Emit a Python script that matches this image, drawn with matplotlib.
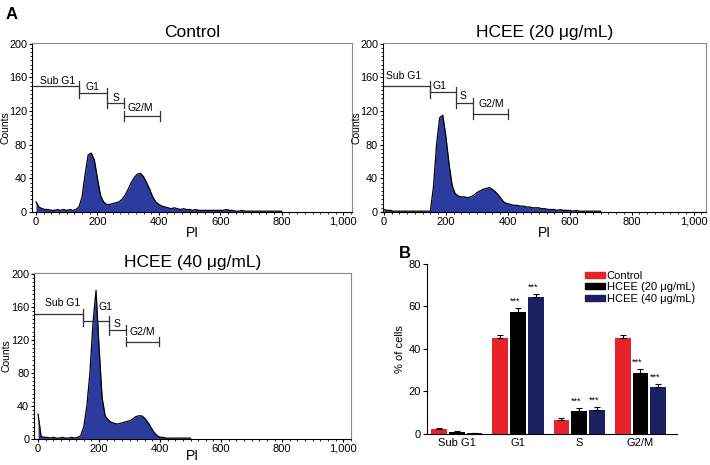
import numpy as np
import matplotlib
matplotlib.use("Agg")
import matplotlib.pyplot as plt
from matplotlib.patches import Patch
from matplotlib.ticker import FuncFormatter, MultipleLocator

plt.rcParams["font.family"] = ["Liberation Sans", "DejaVu Sans"]

# PI histograms, counts per 10-unit bin starting at PI = 0
pi_bin_width = 10
counts_control = [
    12, 6, 4, 3, 3, 2, 2, 3, 2, 3,
    2, 3, 2, 3, 6, 18, 45, 68, 70, 62,
    40, 20, 12, 9, 9, 10, 11, 12, 15, 20,
    27, 35, 41, 45, 46, 42, 35, 27, 18, 12,
    9, 7, 6, 5, 4, 5, 4, 3, 4, 3,
    3, 2, 3, 2, 2, 2, 2, 2, 2, 2,
    2, 2, 3, 2, 2, 1, 1, 2, 1, 1,
    1, 1, 1, 1, 1, 1, 1, 1, 1, 1, 1,
]
counts_20 = [
    3, 2, 2, 1, 1, 1, 1, 1, 1, 1,
    1, 1, 1, 1, 1, 1, 30, 80, 112, 115,
    90, 58, 32, 22, 19, 18, 18, 17, 18, 20,
    23, 25, 27, 28, 29, 27, 24, 20, 15, 11,
    10, 9, 8, 8, 7, 7, 6, 6, 5, 5,
    5, 4, 4, 3, 3, 3, 2, 3, 2, 2,
    2, 1, 2, 1, 1, 1, 1, 1, 1, 1, 1,
]
counts_40 = [
    30, 3, 2, 2, 1, 2, 1, 1, 2, 1,
    1, 2, 1, 2, 4, 15, 40, 80, 140, 180,
    110, 50, 28, 23, 20, 19, 18, 19, 20, 21,
    22, 24, 27, 28, 28, 25, 20, 14, 8, 4,
    2, 2, 1, 1, 1, 1, 1, 1, 1, 1, 1,
]

gate_names = ["Sub G1", "G1", "S", "G2/M"]
# gate edges (PI), marker heights and label positions (counts) per panel
gates_control = [-13, 141, 230, 287, 403]
gates_20 = [-3, 149, 232, 289, 400]
gates_40 = [-13, 148, 233, 289, 398]
gate_y_control = [150, 141, 130, 114]
gate_y_20 = [150, 142, 130, 116]
gate_y_40 = [151, 143, 132, 118]
label_x_control = [72, 185, 260, 341]
label_x_20 = [63, 178, 256, 346]
label_x_40 = [80, 222, 260, 341]
label_y_control = [156, 148, 136, 124]
label_y_20 = [161, 150, 138, 128]
label_y_40 = [165, 160, 139, 129]

# bar chart (panel B)
phases = ["Sub G1", "G1", "S", "G2/M"]
pct_control = [2.2, 45.2, 6.4, 45.0]
pct_20 = [1.0, 57.6, 10.9, 28.9]
pct_40 = [0.3, 64.3, 11.4, 22.3]
err_control = [0.5, 1.5, 1.0, 1.5]
err_20 = [0.6, 1.5, 1.2, 1.5]
err_40 = [0.3, 1.5, 1.1, 1.0]
sig_20 = ["", "***", "***", "***"]
sig_40 = ["", "***", "***", "***"]

HIST_BLUE = "#2c3b9e"
RED = "#e8222a"
NAVY = "#1b2060"

fig = plt.figure(figsize=(7.1, 4.65), dpi=100)


def comma(v, pos):
    return f"{int(v):,}"


def histogram(rect, counts, gates, gate_y, lab_x, lab_y, title, xlim,
              ylab_x, xlab_y):
    ax = fig.add_axes(rect)
    x = np.arange(len(counts)) * pi_bin_width
    ax.fill_between(x, counts, 0, color=HIST_BLUE, lw=0)
    ax.plot(x, counts, color="black", lw=0.9)
    ax.set_xlim(*xlim)
    ax.set_ylim(0, 201)
    ax.xaxis.set_major_locator(MultipleLocator(200))
    ax.xaxis.set_minor_locator(MultipleLocator(25))
    ax.yaxis.set_major_locator(MultipleLocator(40))
    ax.yaxis.set_minor_locator(MultipleLocator(5))
    ax.xaxis.set_major_formatter(FuncFormatter(comma))
    ax.tick_params(which="major", length=2.5, width=0.8, labelsize=8, pad=1)
    ax.tick_params(axis="y", labelsize=7.8)
    ax.tick_params(which="minor", length=1.5, width=0.6)
    for s in ["top", "right"]:
        ax.spines[s].set_color("#8a8a8a")
    ax.set_title(title, fontsize=12.5, pad=4)
    ax.set_xlabel("PI", fontsize=10)
    ax.xaxis.set_label_coords(0.5, xlab_y)
    ax.xaxis.label.set_va("center")
    ax.set_ylabel("Counts", fontsize=7.5)
    ax.yaxis.set_label_coords(ylab_x, 0.5)
    ax.yaxis.label.set_va("center")

    # gate markers
    for i, name in enumerate(gate_names):
        x0, x1, y = gates[i], gates[i + 1], gate_y[i]
        ax.plot([x0, x1], [y, y], color="#333333", lw=0.9)
        if i > 0:
            ax.plot([x0, x0], [y - 6, y + 6], color="#333333", lw=0.9)
        ax.plot([x1, x1], [y - 6, y + 6], color="#333333", lw=0.9)
        ax.text(lab_x[i], lab_y[i], name, fontsize=7.5, ha="center", va="center")
    return ax


histogram([0.045, 0.544, 0.451, 0.364], counts_control, gates_control,
          gate_y_control, label_x_control, label_y_control,
          "Control", (-13, 1029), -0.083, -0.124)
histogram([0.5394, 0.544, 0.455, 0.364], counts_20, gates_20,
          gate_y_20, label_x_20, label_y_20,
          "HCEE (20 \u03bcg/mL)", (-3, 1040), -0.083, -0.124)
histogram([0.048, 0.056, 0.4465, 0.357], counts_40, gates_40,
          gate_y_40, label_x_40, label_y_40,
          "HCEE (40 \u03bcg/mL)", (-13, 1026), -0.086, -0.105)

# panel B
axb = fig.add_axes([0.601, 0.0667, 0.352, 0.3656])
xpos = np.arange(len(phases))
w = 0.26
step = 0.29
series = [
    (pct_control, err_control, RED, "Control", None),
    (pct_20, err_20, "black", "HCEE (20 \u03bcg/mL)", sig_20),
    (pct_40, err_40, NAVY, "HCEE (40 \u03bcg/mL)", sig_40),
]
for k, (vals, errs, col, lab, sig) in enumerate(series):
    pos = xpos + (k - 1) * step
    axb.bar(pos, vals, width=w, color=col, label=lab)
    axb.errorbar(pos, vals, yerr=[np.zeros(len(errs)), errs], fmt="none",
                 ecolor="black", elinewidth=0.8, capsize=2.5, capthick=0.8)
    if sig:
        for p, v, e, s in zip(pos, vals, errs, sig):
            if s:
                axb.text(p - 0.05, v + e + 1.2, s, fontsize=6.5, ha="center",
                         va="bottom")

axb.set_xlim(-0.49, 3.59)
axb.set_ylim(0, 80)
axb.set_xticks(xpos)
axb.set_xticklabels(phases, fontsize=8)
axb.tick_params(axis="x", length=0, pad=3)
axb.yaxis.set_major_locator(MultipleLocator(20))
axb.tick_params(axis="y", labelsize=8, length=3, pad=1)
for s in ["top", "right"]:
    axb.spines[s].set_visible(False)
axb.set_ylabel("% of cells", fontsize=8, labelpad=3)

handles = [Patch(color=c) for c in [RED, "black", NAVY]]
axb.legend(handles, [s[3] for s in series], loc="upper right",
           bbox_to_anchor=(1.1, 1.0), frameon=False, fontsize=8,
           handlelength=1.8, handleheight=0.45, handletextpad=0.15,
           labelspacing=0.15, borderaxespad=0.2)

fig.text(0.008, 0.985, "A", fontsize=12, fontweight="bold", va="top")
fig.text(0.562, 0.47, "B", fontsize=12, fontweight="bold", va="top")

fig.savefig("out.png", dpi=100)
